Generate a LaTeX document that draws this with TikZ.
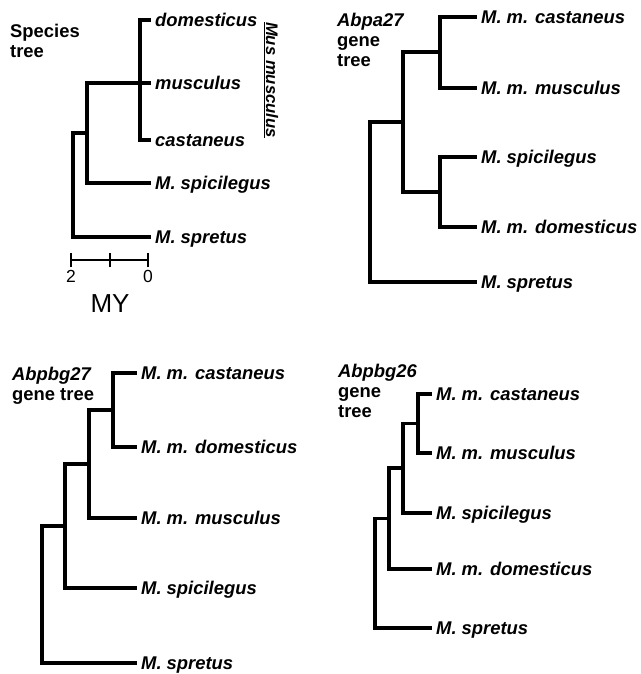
\documentclass[tikz,border=0pt]{standalone}
\usepackage{fontspec}
\setmainfont{Liberation Sans}
\usetikzlibrary{positioning}

\tikzset{
  branch/.style={line width=3.2pt, line cap=rect, line join=miter},
  tip/.style={anchor=west, inner xsep=6pt, inner ysep=0pt, text height=13.2pt,
    text depth=0pt, font=\fontsize{18.4}{20}\selectfont\bfseries\itshape},
  treelabel/.style={anchor=base west, align=left, inner sep=0pt,
    font=\fontsize{18.4}{20}\selectfont\bfseries},
  scalebar/.style={line width=2pt}
}

\begin{document}
\begin{tikzpicture}[x=1pt, y=-1pt]
    \useasboundingbox (0,0) rectangle (640,674);

    % species tree
    \node[treelabel] (sptitle) at (10,58) {Species\\tree};
    \coordinate (sproot) at (73,185);
    \coordinate (spmid) at (87,133);
    \coordinate (spmus) at (140,83);
    \node[tip] (spdom) at (149,20) {domesticus};
    \node[tip] (spmusc) at (149,83) {musculus};
    \node[tip] (spcas) at (149,140) {castaneus};
    \node[tip] (spspi) at (149,183) {M. spicilegus};
    \node[tip] (spspr) at (149,237) {M. spretus};
    \draw[branch] (spmus) |- (spdom.west) (spmus) |- (spcas.west);
    \draw[branch] (spmid) |- (spmusc.west) (spmid) |- (spspi.west);
    \draw[branch] (sproot) |- (spmid) (sproot) |- (spspr.west);

    \node[rotate=-90, inner sep=0pt, font=\fontsize{16.7}{18}\selectfont\bfseries\itshape]
        (musmus) at (271,80) {\underline{Mus musculus}};

    \coordinate (sc2) at (71,260);
    \coordinate (sc1) at (110,260);
    \coordinate (sc0) at (148,260);
    \draw[scalebar] (sc2) -- (sc0);
    \foreach \t in {sc2, sc1, sc0}
      \draw[scalebar] ([yshift=-7pt]\t) -- ([yshift=7pt]\t);
    \node[font=\fontsize{17.5}{18}\selectfont, inner sep=0pt] (lab2) at (71,276) {2};
    \node[font=\fontsize{17.5}{18}\selectfont, inner sep=0pt] (lab0) at (148,276) {0};
    \node[font=\fontsize{26}{28}\selectfont, inner sep=0pt] (my) at (110,304) {MY};

    % Abpa27
    \node[treelabel] (atitle) at (337,67) {\textit{Abpa27}\\gene\\tree};
    \coordinate (aroot) at (370,202);
    \coordinate (aB) at (403,122);
    \coordinate (aA) at (440,52);
    \coordinate (aC) at (440,192);
    \node[tip] (acas) at (475,17) {M. m. castaneus};
    \node[tip] (amus) at (475,88) {M. m. musculus};
    \node[tip] (aspi) at (475,157) {M. spicilegus};
    \node[tip] (adom) at (475,227) {M. m. domesticus};
    \node[tip] (aspr) at (475,282) {M. spretus};
    \draw[branch] (aA) |- (acas.west) (aA) |- (amus.west);
    \draw[branch] (aC) |- (aspi.west) (aC) |- (adom.west);
    \draw[branch] (aB) |- (aA) (aB) |- (aC);
    \draw[branch] (aroot) |- (aB) (aroot) |- (aspr.west);

    % Abpbg27
    \node[treelabel] (btitle) at (12,400) {\textit{Abpbg27}\\gene tree};
    \coordinate (broot) at (42,595);
    \coordinate (bn3) at (65,526);
    \coordinate (bn2) at (89,464);
    \coordinate (bn1) at (113,410);
    \node[tip] (bcas) at (135,373) {M. m. castaneus};
    \node[tip] (bdom) at (135,447) {M. m. domesticus};
    \node[tip] (bmus) at (135,518) {M. m. musculus};
    \node[tip] (bspi) at (135,588) {M. spicilegus};
    \node[tip] (bspr) at (135,663) {M. spretus};
    \draw[branch] (bn1) |- (bcas.west) (bn1) |- (bdom.west);
    \draw[branch] (bn2) |- (bn1) (bn2) |- (bmus.west);
    \draw[branch] (bn3) |- (bn2) (bn3) |- (bspi.west);
    \draw[branch] (broot) |- (bn3) (broot) |- (bspr.west);

    % Abpbg26
    \node[treelabel] (ctitle) at (338,417) {\textit{Abpbg26}\\gene\\tree};
    \coordinate (croot) at (375,573);
    \coordinate (cn3) at (389,518.5);
    \coordinate (cn2) at (403,468);
    \coordinate (cn1) at (418,423.5);
    \node[tip] (ccas) at (430,394) {M. m. castaneus};
    \node[tip] (cmus) at (430,453) {M. m. musculus};
    \node[tip] (cspi) at (430,513) {M. spicilegus};
    \node[tip] (cdom) at (430,569) {M. m. domesticus};
    \node[tip] (cspr) at (430,628) {M. spretus};
    \draw[branch] (cn1) |- (ccas.west) (cn1) |- (cmus.west);
    \draw[branch] (cn2) |- (cn1) (cn2) |- (cspi.west);
    \draw[branch] (cn3) |- (cn2) (cn3) |- (cdom.west);
    \draw[branch] (croot) |- (cn3) (croot) |- (cspr.west);

\end{tikzpicture}
\end{document}
